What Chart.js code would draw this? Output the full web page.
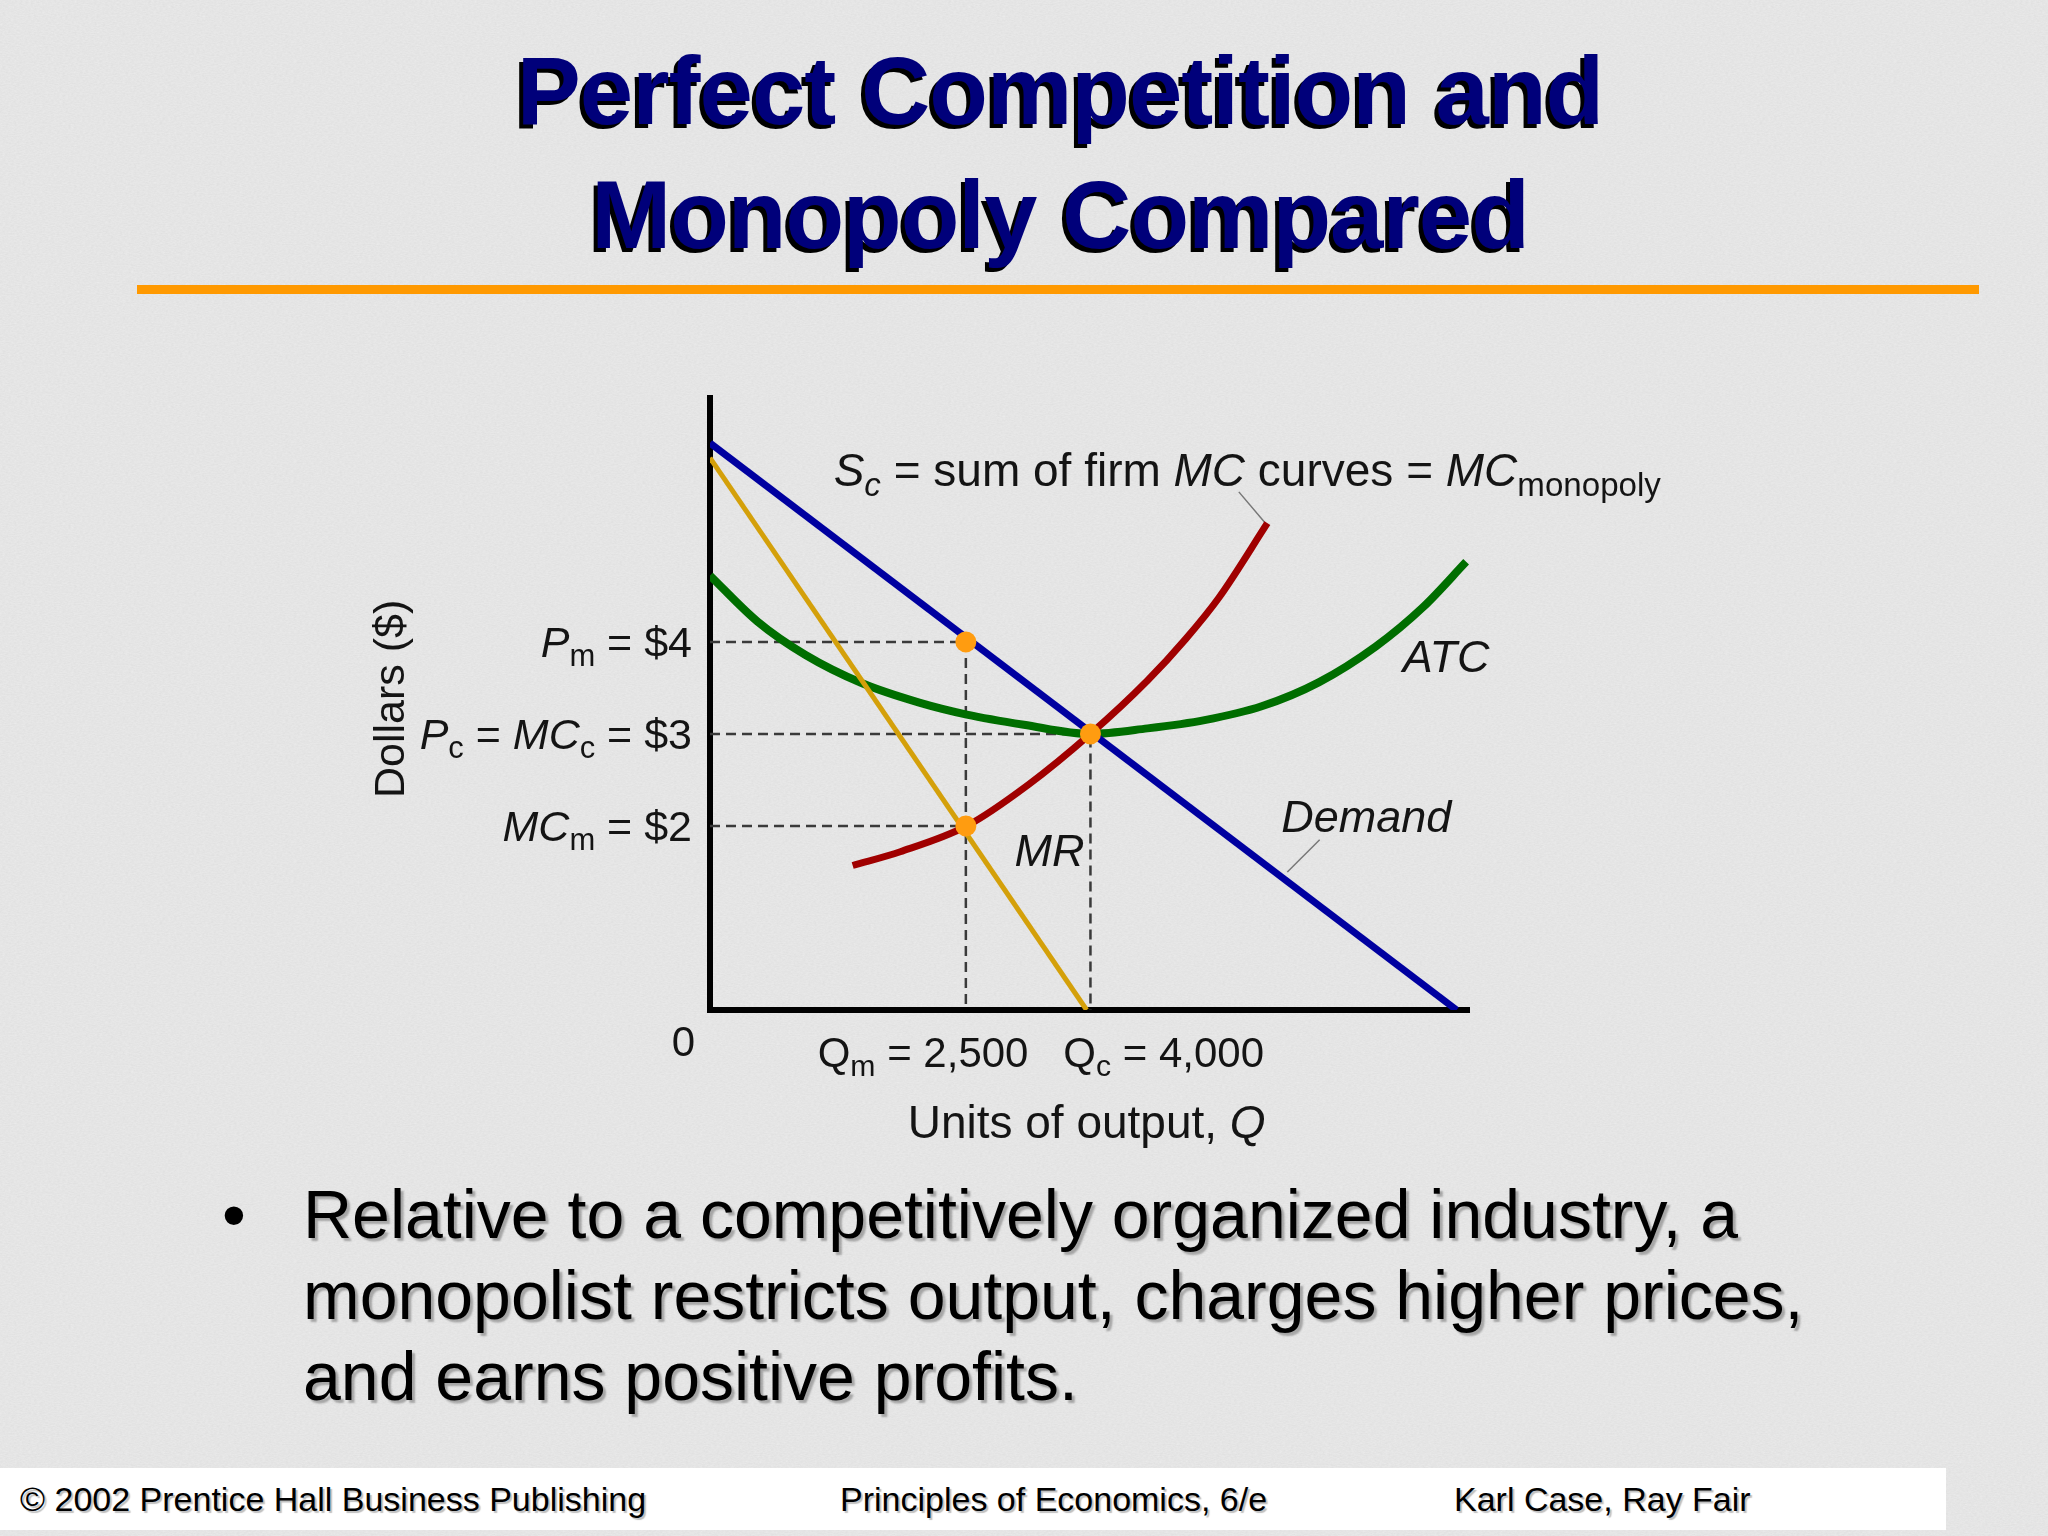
<!DOCTYPE html>
<html>
<head>
<meta charset="utf-8">
<title>Perfect Competition and Monopoly Compared</title>
<script src="https://cdn.jsdelivr.net/npm/chart.js@4.4.0/dist/chart.umd.min.js"></script>
<style>
    html, body { margin: 0; padding: 0; }
    body {
        width: 2048px; height: 1536px; position: relative; overflow: hidden;
        background-color: #ebebeb;
        background-image: url("data:image/svg+xml,%3Csvg xmlns='http://www.w3.org/2000/svg' width='400' height='400'%3E%3Cfilter id='n'%3E%3CfeTurbulence type='fractalNoise' baseFrequency='0.35 0.9' numOctaves='3' seed='4'/%3E%3CfeColorMatrix values='0 0 0 0 0.45 0 0 0 0 0.45 0 0 0 0 0.45 0 0 0 0.22 0'/%3E%3C/filter%3E%3Crect width='400' height='400' filter='url(%23n)'/%3E%3C/svg%3E");
        font-family: "Liberation Sans", Arial, sans-serif;
    }
    #title {
        position: absolute; left: 1060px; top: 29px; transform: translateX(-50%);
        white-space: nowrap; text-align: center;
        font-weight: bold; font-size: 96px; line-height: 124px; letter-spacing: -1px;
        color: #00007a; text-shadow: -4px 4px 0 #000;
    }
    #rule { position: absolute; left: 137px; top: 285px; width: 1842px; height: 9px; background: #ff9900; }
    #chart { position: absolute; left: 0; top: 0; }
    .bullet-dot { position: absolute; left: 222px; top: 1174px; font-size: 68px; line-height: 81px; }
    .bullet-text {
        position: absolute; left: 303px; top: 1174px; white-space: nowrap;
        font-size: 68px; line-height: 81px; color: #000;
        text-shadow: 3px 3px 2px rgba(0, 0, 0, 0.28);
    }
    #footer { position: absolute; left: 0; top: 1468px; width: 1946px; height: 62px; background: #fff; }
    .foot {
        position: absolute; top: 1479px; font-size: 34px; line-height: 40px; white-space: nowrap;
        color: #000; text-shadow: 2px 2px 1px rgba(0, 0, 0, 0.25);
    }
</style>
</head>
<body>
<div id="title">Perfect Competition and<br>Monopoly Compared</div>
<div id="rule"></div>
<canvas id="chart" width="2048" height="1536"></canvas>
<div class="bullet-dot">•</div>
<div class="bullet-text">Relative to a competitively organized industry, a<br>monopolist restricts output, charges higher prices,<br>and earns positive profits.</div>
<div id="footer"></div>
<div class="foot" style="left:20px">© 2002 Prentice Hall Business Publishing</div>
<div class="foot" style="left:840px">Principles of Economics, 6/e</div>
<div class="foot" style="left:1454px">Karl Case, Ray Fair</div>

<script>
// values: x = output (drawing units), y = dollars
var demandQ = [0, 7.85];
var demandP = [6.16, 0];
var mrQ = [0, 3.96];
var mrP = [6.0, 0];
var atcQ = [0, 0.5, 1, 1.6, 2.2, 2.7, 3.3, 4, 4.6, 5.2, 5.8, 6.4, 7.0, 7.5, 7.95];
var atcP = [4.72, 4.22, 3.86, 3.55, 3.34, 3.21, 3.1, 3.0, 3.06, 3.15, 3.3, 3.56, 3.95, 4.38, 4.87];
var mcQ = [1.5, 2.0, 2.7, 3.35, 4.0, 4.6, 5.0, 5.35, 5.86];
var mcP = [1.57, 1.72, 2.0, 2.45, 3.0, 3.58, 4.03, 4.48, 5.29];

var qm = 2.69;          // Qm = 2,500
var qc = 4.0;           // Qc = 4,000
var pm = 4, pc = 3, mcm = 2;

// leader lines from the labels to the curves
var mcLeaderQ = [5.56, 5.84];
var mcLeaderP = [5.63, 5.29];
var demLeaderQ = [6.41, 6.07];
var demLeaderP = [1.85, 1.5];

var xMax = 7.98, yMax = 6.65;

var FONT = '"Liberation Sans", Arial, sans-serif';

function pts(xs, ys) {
    return xs.map(function (x, i) { return { x: x, y: ys[i] }; });
}

function drawRuns(ctx, runs, x, y, size, align) {
    var parts = runs.map(function (r) {
        var s = r.sub ? size * 0.72 : size;
        var f = (r.i ? 'italic ' : '') + s + 'px ' + FONT;
        ctx.font = f;
        return { t: r.t, f: f, w: ctx.measureText(r.t).width, dy: r.sub ? size * 0.22 : 0 };
    });
    var total = parts.reduce(function (a, p) { return a + p.w; }, 0);
    var cx = align === 'right' ? x - total : (align === 'center' ? x - total / 2 : x);
    ctx.textAlign = 'left';
    ctx.textBaseline = 'alphabetic';
    parts.forEach(function (p) {
        ctx.font = p.f;
        ctx.fillText(p.t, cx, y + p.dy);
        cx += p.w;
    });
}

// price labels on the left of the y axis
var priceLabels = [
    { v: pm, runs: [{ t: 'P', i: true }, { t: 'm', sub: true }, { t: ' = $4' }] },
    { v: pc, runs: [{ t: 'P', i: true }, { t: 'c', sub: true }, { t: ' = ' }, { t: 'MC', i: true }, { t: 'c', sub: true }, { t: ' = $3' }] },
    { v: mcm, runs: [{ t: 'MC', i: true }, { t: 'm', sub: true }, { t: ' = $2' }] }
];

// other labels, placed in data units
var notes = [
    { x: 1.30, y: 5.87, align: 'left', size: 46, runs: [{ t: 'S', i: true }, { t: 'c', i: true, sub: true }, { t: ' = sum of firm ' }, { t: 'MC', i: true }, { t: ' curves = ' }, { t: 'MC', i: true }, { t: 'monopoly', sub: true }] },
    { x: 7.74, y: 3.85, align: 'center', size: 45, runs: [{ t: 'ATC', i: true }] },
    { x: 6.90, y: 2.11, align: 'center', size: 45, runs: [{ t: 'Demand', i: true }] },
    { x: 3.57, y: 1.74, align: 'center', size: 45, runs: [{ t: 'MR', i: true }] },
    { x: -0.28, y: -0.34, align: 'center', size: 42, runs: [{ t: '0' }] },
    { x: 2.24, y: -0.45, align: 'center', size: 42, runs: [{ t: 'Q' }, { t: 'm', sub: true }, { t: ' = 2,500' }] },
    { x: 4.77, y: -0.45, align: 'center', size: 42, runs: [{ t: 'Q' }, { t: 'c', sub: true }, { t: ' = 4,000' }] },
    { x: 3.96, y: -1.21, align: 'center', size: 46, runs: [{ t: 'Units of output, ' }, { t: 'Q', i: true }] }
];

var textPlugin = {
    id: 'econText',
    afterDraw: function (chart) {
        var ctx = chart.ctx;
        var xs = chart.scales.x, ys = chart.scales.y;
        ctx.save();
        ctx.fillStyle = '#141414';
        priceLabels.forEach(function (l) {
            drawRuns(ctx, l.runs, chart.chartArea.left - 18, ys.getPixelForValue(l.v) + 15, 43, 'right');
        });
        notes.forEach(function (n) {
            drawRuns(ctx, n.runs, xs.getPixelForValue(n.x), ys.getPixelForValue(n.y) + n.size * 0.36, n.size, n.align);
        });
        // y axis title
        ctx.translate(xs.getPixelForValue(-3.38), ys.getPixelForValue(3.38));
        ctx.rotate(-Math.PI / 2);
        drawRuns(ctx, [{ t: 'Dollars ($)' }], 0, 15, 43, 'center');
        ctx.restore();
    }
};

var dash = { borderColor: '#3a3a3a', borderWidth: 2.5, borderDash: [10, 6], pointRadius: 0, showLine: true, order: 6 };
var leader = { borderColor: '#777', borderWidth: 1.5, pointRadius: 0, showLine: true, order: 6 };

var ctx = document.getElementById('chart').getContext('2d');
new Chart(ctx, {
    type: 'scatter',
    data: {
        datasets: [
            Object.assign({ data: [{ x: 0, y: pm }, { x: qm, y: pm }, { x: qm, y: 0 }] }, dash),
            Object.assign({ data: [{ x: 0, y: pc }, { x: qc, y: pc }, { x: qc, y: 0 }] }, dash),
            Object.assign({ data: [{ x: 0, y: mcm }, { x: qm, y: mcm }] }, dash),
            Object.assign({ data: pts(mcLeaderQ, mcLeaderP) }, leader),
            Object.assign({ data: pts(demLeaderQ, demLeaderP) }, leader),
            { label: 'ATC', data: pts(atcQ, atcP), showLine: true, borderColor: '#006e00', borderWidth: 8,
              pointRadius: 0, cubicInterpolationMode: 'monotone', order: 5 },
            { label: 'MC', data: pts(mcQ, mcP), showLine: true, borderColor: '#a00000', borderWidth: 7,
              pointRadius: 0, cubicInterpolationMode: 'monotone', order: 4 },
            { label: 'Demand', data: pts(demandQ, demandP), showLine: true, borderColor: '#0000a0', borderWidth: 7,
              pointRadius: 0, order: 3 },
            { label: 'MR', data: pts(mrQ, mrP), showLine: true, borderColor: '#d4a00a', borderWidth: 5,
              pointRadius: 0, order: 2 },
            { label: 'points', data: [{ x: qm, y: pm }, { x: qc, y: pc }, { x: qm, y: mcm }],
              pointRadius: 10.5, pointBackgroundColor: '#ff9c10', pointBorderWidth: 0, order: 1 }
        ]
    },
    options: {
        responsive: false,
        animation: false,
        layout: { autoPadding: false, padding: { left: 710, top: 398, right: 579, bottom: 526 } },
        plugins: { legend: { display: false }, tooltip: { enabled: false } },
        scales: {
            x: { type: 'linear', min: 0, max: xMax,
                 ticks: { display: false }, grid: { display: false, drawTicks: false },
                 border: { display: true, color: '#000', width: 6 } },
            y: { type: 'linear', min: 0, max: yMax,
                 ticks: { display: false }, grid: { display: false, drawTicks: false },
                 border: { display: true, color: '#000', width: 6 } }
        }
    },
    plugins: [textPlugin]
});
</script>
</body>
</html>
